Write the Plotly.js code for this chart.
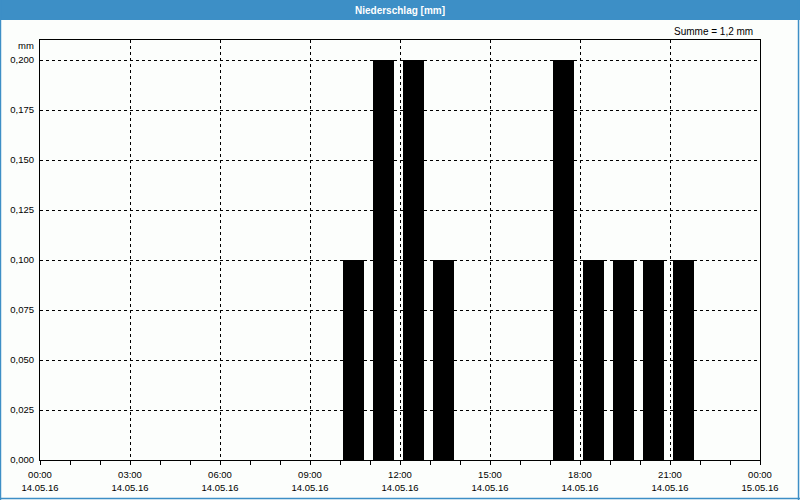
<!DOCTYPE html>
<html>
<head>
<meta charset="utf-8">
<script src="https://cdn.plot.ly/plotly-3.0.1.min.js"></script>
<style>
html,body{margin:0;padding:0;background:#fcfefc;}
#chart{width:800px;height:500px;}
</style>
</head>
<body>
<div id="chart"></div>
<script>
// Data
var hours = ["2016-05-14 10:00","2016-05-14 11:00","2016-05-14 12:00","2016-05-14 13:00",
             "2016-05-14 17:00","2016-05-14 18:00","2016-05-14 19:00","2016-05-14 20:00","2016-05-14 21:00"];
var precip = [0.1, 0.2, 0.2, 0.1, 0.2, 0.1, 0.1, 0.1, 0.1];
var tickTimes = ["2016-05-14 00:00","2016-05-14 03:00","2016-05-14 06:00","2016-05-14 09:00",
                 "2016-05-14 12:00","2016-05-14 15:00","2016-05-14 18:00","2016-05-14 21:00","2016-05-15 00:00"];
var tickTexts = ["00:00<br>14.05.16","03:00<br>14.05.16","06:00<br>14.05.16","09:00<br>14.05.16",
                 "12:00<br>14.05.16","15:00<br>14.05.16","18:00<br>14.05.16","21:00<br>14.05.16","00:00<br>15.05.16"];
var yTicks = [0, 0.025, 0.05, 0.075, 0.1, 0.125, 0.15, 0.175, 0.2];
var chartTitle = "Niederschlag [mm]";
var yUnit = "mm";
var sumText = "Summe = 1,2 mm";

var HOUR = 3600000;
var trace = {
  type: "bar",
  x: hours,
  y: precip,
  width: hours.map(function(){return 0.7*HOUR;}),
  offset: hours.map(function(){return 0.1*HOUR;}),
  marker: {color: "#000000", line: {width: 0}},
  hoverinfo: "x+y"
};

var font = {family: "Liberation Sans, Arial, sans-serif", size: 9.5, color: "#000000"};
var BLUE = "#3d8fc6";

var layout = {
  width: 800, height: 500,
  margin: {l: 40, r: 40, t: 40, b: 40},
  paper_bgcolor: "#fcfefc",
  plot_bgcolor: "#fcfefc",
  separators: ",.",
  font: font,
  showlegend: false,
  bargap: 0,
  xaxis: {
    type: "date",
    range: ["2016-05-14 00:00", "2016-05-15 00:00"],
    tickmode: "array",
    tickvals: tickTimes,
    ticktext: tickTexts,
    ticks: "outside", ticklen: 4, tickwidth: 1, tickcolor: "#000000",
    minor: {dtick: HOUR, ticks: "outside", ticklen: 4, tickcolor: "#000000", showgrid: false},
    showgrid: true, gridcolor: "#000000", gridwidth: 1, griddash: "3px,3px",
    showline: true, linecolor: "#000000", linewidth: 1, mirror: true,
    zeroline: false, fixedrange: true,
    ticklabelstandoff: 2,
    tickfont: font
  },
  yaxis: {
    range: [0, 0.21],
    tickmode: "array",
    tickvals: yTicks,
    tickformat: ".3f",
    ticks: "", ticklabelstandoff: 3,
    showgrid: true, gridcolor: "#000000", gridwidth: 1, griddash: "3px,3px",
    showline: true, linecolor: "#000000", linewidth: 1, mirror: true,
    zeroline: false, fixedrange: true,
    tickfont: font
  },
  shapes: [
    {type: "rect", xref: "paper", yref: "paper", x0: -0.06, x1: 1.06, y0: 1.0476, y1: 1.1,
     fillcolor: BLUE, line: {width: 0}, layer: "below"},
    {type: "line", xref: "paper", yref: "paper", x0: -0.0549, x1: -0.0549, y0: -0.1, y1: 1.1,
     line: {color: BLUE, width: 1.5}},
    {type: "line", xref: "paper", yref: "paper", x0: 1.0535, x1: 1.0535, y0: -0.1, y1: 1.1,
     line: {color: BLUE, width: 1.5}},
    {type: "line", xref: "paper", yref: "paper", x0: -0.06, x1: 1.06, y0: -0.0917, y1: -0.0917,
     line: {color: BLUE, width: 1.5}}
  ],
  annotations: [
    {text: "<b>" + chartTitle + "</b>", xref: "paper", yref: "paper", x: 0.5, y: 1.0714,
     xanchor: "center", yanchor: "middle", showarrow: false,
     font: {family: "Liberation Sans, Arial, sans-serif", size: 10, color: "#ffffff"}},
    {text: yUnit, xref: "paper", yref: "paper", x: -0.005, y: 0.988,
     xanchor: "right", yanchor: "middle", showarrow: false, font: font},
    {text: sumText, xref: "paper", yref: "paper", x: 0.9935, y: 1.0214,
     xanchor: "right", yanchor: "middle", showarrow: false,
     font: {family: "Liberation Sans, Arial, sans-serif", size: 10, color: "#000000"}}
  ]
};

Plotly.newPlot("chart", [trace], layout, {displayModeBar: false, staticPlot: true});
</script>
</body>
</html>
